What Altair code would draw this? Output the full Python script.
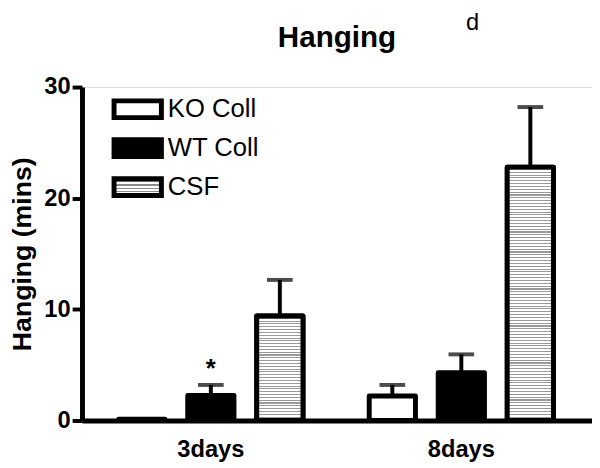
import json
import altair as alt
import pandas as pd

FONT = "Liberation Sans, Arial, Helvetica, sans-serif"

groups = ["3days", "8days"]
series = ["KO Coll", "WT Coll", "CSF"]
means_3days = [0.12, 2.25, 9.4]
means_8days = [2.2, 4.3, 22.8]
errs_3days = [0.0, 0.95, 3.25]
errs_8days = [1.0, 1.65, 5.4]
star_labels = ["", "*", ""]
chart_title = ["Hanging"]
panel_letter = ["d"]

rows = []
for g, ms, es in [("3days", means_3days, errs_3days), ("8days", means_8days, errs_8days)]:
    for i, s in enumerate(series):
        rows.append({"group": g, "series": s, "value": ms[i], "err": es[i],
                     "upper": ms[i] + es[i],
                     "star": star_labels[i] if g == "3days" else ""})
df = pd.DataFrame(rows)

PLOT_W, PLOT_H = 517, 338
PX_PER_UNIT = PLOT_H / 30.0
STRIPE_PERIOD = 2.9


def stripes(n, gray="#9a9a9a"):
    stops = []
    for i in range(n):
        a = i / n
        b = (i + 0.62) / n
        c = (i + 1) / n
        stops += [{"offset": a, "color": "white"}, {"offset": b, "color": "white"},
                  {"offset": b, "color": gray}, {"offset": c, "color": gray}]
    return {"gradient": "linear", "x1": 0, "y1": 0, "x2": 0, "y2": 1, "stops": stops}


def to_expr(obj):
    s = json.dumps(obj)
    for key in ["gradient", "x1", "y1", "x2", "y2", "stops", "offset", "color"]:
        s = s.replace('"%s"' % key, key)
    return s.replace('"', "'")


legend_grad_expr = to_expr(stripes(5, "#8a8a8a"))

x_enc = alt.X("group:N", sort=groups,
              scale=alt.Scale(paddingInner=0, paddingOuter=0.018, align=0.4),
              axis=alt.Axis(title=None, labelAngle=0, ticks=False, domainWidth=5,
                            domainColor="black", labelFont=FONT, labelFontSize=24,
                            labelFontWeight="bold", labelColor="black", labelPadding=18,
                            grid=False))
xo_enc = alt.XOffset("series:N", sort=series,
                     scale=alt.Scale(paddingInner=0.33, paddingOuter=0.48))
y_enc = alt.Y("value:Q", scale=alt.Scale(domain=[0, 30], nice=False),
              axis=alt.Axis(values=[0, 10, 20, 30], title="Hanging (mins)",
                            titleFont=FONT, titleFontSize=27, titleFontWeight="bold",
                            titleColor="black", titlePadding=7,
                            labelFont=FONT, labelFontSize=24, labelFontWeight="bold",
                            labelColor="black", labelPadding=2,
                            tickSize=10, tickWidth=4, tickColor="black",
                            domainWidth=5, domainColor="black", grid=False))

base = alt.Chart(df)

bars = base.mark_bar(stroke="black", strokeWidth=5, strokeJoin="round").encode(
    x=x_enc, xOffset=xo_enc, y=y_enc,
    fill=alt.Fill("series:N", sort=series,
                  scale=alt.Scale(domain=series,
                                  range=["white", "black", alt.ExprRef(legend_grad_expr)]),
                  legend=alt.Legend(
                      title=None, orient="none", legendX=39, legendY=5, padding=0,
                      symbolType="M-1.6,-0.567H1.6V0.567H-1.6Z", symbolSize=900,
                      symbolStrokeColor="black", symbolStrokeWidth=5,
                      labelFont=FONT, labelFontSize=26, labelColor="black",
                      labelOffset=13, rowPadding=0.5)),
)

csf_layers = []
for g, ms in [("3days", means_3days), ("8days", means_8days)]:
    v = ms[2]
    n = max(3, round(v * PX_PER_UNIT / STRIPE_PERIOD))
    csf_layers.append(
        base.transform_filter(
            (alt.datum.series == "CSF") & (alt.datum.group == g)
        ).mark_bar(stroke="black", strokeWidth=5, strokeJoin="round",
                   fill=stripes(n)).encode(x=x_enc, xOffset=xo_enc, y=y_enc)
    )

err_base = base.transform_filter(alt.datum.err > 0)
rules = err_base.mark_rule(color="black", strokeWidth=4).encode(
    x=x_enc, xOffset=xo_enc, y="value:Q", y2="upper:Q")
caps = err_base.mark_tick(color="black", thickness=4, size=26).encode(
    x=x_enc, xOffset=xo_enc, y="upper:Q")

stars = base.transform_filter(alt.datum.star != "").mark_text(
    font=FONT, fontSize=26, fontWeight="bold", color="black",
    baseline="alphabetic", dy=-8).encode(
    x=x_enc, xOffset=xo_enc, y="upper:Q", text="star:N")

title_txt = alt.Chart(pd.DataFrame({"t": chart_title})).mark_text(
    font=FONT, fontSize=30, fontWeight="bold", color="black",
    baseline="alphabetic", align="center"
).encode(x=alt.value(PLOT_W / 2), y=alt.value(-41), text="t:N")

letter = alt.Chart(pd.DataFrame({"t": panel_letter})).mark_text(
    font=FONT, fontSize=24, color="black", baseline="alphabetic", align="center"
).encode(x=alt.value(396), y=alt.value(-58), text="t:N")

chart = alt.layer(rules, caps, bars, *csf_layers, stars, title_txt, letter).properties(
    width=PLOT_W, height=PLOT_H,
    autosize=alt.AutoSizeParams(type="none"),
    padding={"left": 75, "top": 77, "right": 0, "bottom": 45},
).configure_view(stroke=None).configure(background="white")

chart.save("out.html", embed_options={"renderer": "svg", "actions": False})
